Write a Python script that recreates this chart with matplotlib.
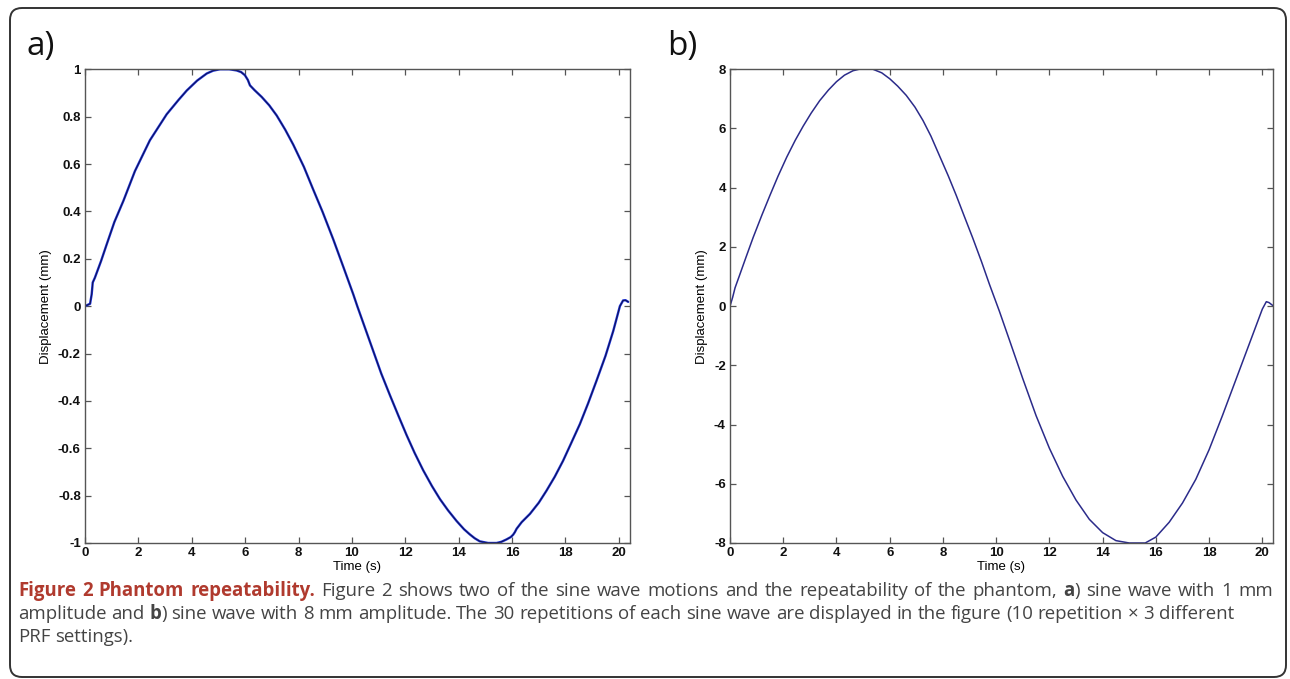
import matplotlib
matplotlib.use("Agg")
import matplotlib.pyplot as plt
from matplotlib.patches import FancyBboxPatch
from matplotlib.transforms import IdentityTransform

# panel a: 1 mm sine wave (30 repetitions overlaid)
time_a = [0, 0.19, 0.25, 0.29, 0.37, 0.6, 0.81, 1.1, 1.44, 1.87, 2.43, 3.06, 3.5, 3.81,
          4.2, 4.56, 4.8, 5.06, 5.4, 5.68, 5.85, 5.99, 6.1, 6.18, 6.35, 6.62, 6.9, 7.18,
          7.5, 7.8, 8.2, 8.55, 8.9, 9.3, 9.68, 10.05, 10.2, 10.5, 10.8, 11.1, 11.42, 11.75,
          12.05, 12.35, 12.67, 13.0, 13.3, 13.6, 13.92, 14.2, 14.42, 14.6, 14.79, 15.1,
          15.42, 15.6, 15.79, 15.95, 16.04, 16.1, 16.17, 16.36, 16.67, 17.0, 17.29, 17.6,
          17.91, 18.2, 18.54, 18.85, 19.16, 19.5, 19.79, 20.04, 20.16, 20.25, 20.35]
disp_a = [0, 0.01, 0.05, 0.10, 0.12, 0.19, 0.26, 0.355, 0.445, 0.57, 0.70, 0.81, 0.87, 0.91,
          0.952, 0.982, 0.994, 1.0, 1.0, 0.995, 0.988, 0.975, 0.955, 0.932, 0.912, 0.883, 0.848, 0.805,
          0.745, 0.682, 0.588, 0.492, 0.398, 0.282, 0.165, 0.05, 0.0, -0.095, -0.19, -0.285, -0.375, -0.465,
          -0.545, -0.62, -0.693, -0.76, -0.815, -0.862, -0.907, -0.942, -0.964, -0.98, -0.993, -1.0,
          -1.0, -0.995, -0.985, -0.975, -0.965, -0.955, -0.94, -0.912, -0.877, -0.83, -0.779, -0.72,
          -0.653, -0.582, -0.498, -0.41, -0.316, -0.21, -0.105, 0.0, 0.024, 0.025, 0.018]

# panel b: 8 mm sine wave
time_b = [0, 0.1, 0.19, 0.37, 0.6, 0.87, 1.2, 1.5, 1.8, 2.13, 2.45, 2.75, 3.05, 3.37, 3.7,
          4.0, 4.3, 4.62, 4.85, 5.0, 5.37, 5.7, 6.0, 6.3, 6.62, 6.95, 7.25, 7.55, 7.87, 8.2,
          8.5, 8.8, 9.12, 9.45, 9.75, 10.12, 10.5, 11.0, 11.5, 12.0, 12.5, 13.0, 13.5, 14.0,
          14.5, 15.0, 15.6, 16.0, 16.5, 17.0, 17.5, 18.0, 18.5, 19.0, 19.5, 20.0, 20.15,
          20.25, 20.38]
disp_b = [0, 0.3, 0.62, 1.07, 1.65, 2.32, 3.08, 3.74, 4.38, 5.03, 5.6, 6.08, 6.52, 6.94, 7.3,
          7.58, 7.8, 7.95, 8.0, 8.0, 8.0, 7.88, 7.68, 7.43, 7.12, 6.72, 6.27, 5.74, 5.08, 4.4,
          3.74, 3.04, 2.3, 1.5, 0.73, -0.17, -1.15, -2.45, -3.7, -4.8, -5.75, -6.55, -7.2, -7.65,
          -7.92, -8.0, -8.0, -7.8, -7.3, -6.65, -5.85, -4.85, -3.7, -2.5, -1.3, -0.1, 0.15,
          0.12, 0.03]

xticks = [0, 2, 4, 6, 8, 10, 12, 14, 16, 18, 20]
yticks_a = [-1, -0.8, -0.6, -0.4, -0.2, 0, 0.2, 0.4, 0.6, 0.8, 1]
yticks_b = [-8, -6, -4, -2, 0, 2, 4, 6, 8]


def fmt(v):
    return ("%g" % v)


def style_axes(ax, yticks, ylim):
    ax.set_xlim(0, 20.4)
    ax.set_ylim(*ylim)
    ax.set_xticks(xticks)
    ax.set_xticklabels([fmt(v) for v in xticks])
    ax.set_yticks(yticks)
    ax.set_yticklabels([fmt(v) for v in yticks])
    for lab in ax.get_xticklabels() + ax.get_yticklabels():
        lab.set_fontfamily("Liberation Sans")
        lab.set_fontweight("bold")
        lab.set_fontsize(9.5)
        lab.set_color("#111111")
    ax.tick_params(direction="in", length=4, width=0.9, color="#555555",
                   top=True, right=True, pad=3)
    for s in ax.spines.values():
        s.set_color("#555555")
        s.set_linewidth(1.0)
    ax.set_xlabel("Time (s)", fontfamily="Liberation Sans", fontsize=9.5, labelpad=1)
    ax.set_ylabel("Displacement (mm)", fontfamily="Liberation Sans", fontsize=9.5, labelpad=4)


fig = plt.figure(figsize=(12.9, 6.79), dpi=100)

ax_a = fig.add_axes([0.0659, 0.2003, 0.4221, 0.6977])
ax_a.plot(time_a, disp_a, color="#1a2fd6", linewidth=1.7, solid_capstyle="round")
ax_a.plot(time_a, disp_a, color="#101040", linewidth=0.6)
style_axes(ax_a, yticks_a, (-1, 1))

ax_b = fig.add_axes([0.5659, 0.2003, 0.4209, 0.6977])
ax_b.plot(time_b, disp_b, color="#2b2b8a", linewidth=1.1)
style_axes(ax_b, yticks_b, (-8, 8))

fig.text(27 / 1290, 1 - 46 / 679, "a)", fontfamily="Open Sans", fontsize=24,
         va="center", ha="left", color="#111111")
fig.text(667 / 1290, 1 - 46 / 679, "b)", fontfamily="Open Sans", fontsize=24,
         va="center", ha="left", color="#111111")

# outer rounded frame
frame = FancyBboxPatch((10, 2), 1276, 669, boxstyle="round,pad=0,rounding_size=12",
                       transform=IdentityTransform(), fill=False,
                       edgecolor="#333333", linewidth=1.4)
fig.patches.append(frame)

# caption: each line is a list of words, each word a list of styled pieces
RED = "#b03a2e"
GREY = "#444444"
head = [[("Figure", "bold", RED)], [("2", "bold", RED)], [("Phantom", "bold", RED)],
        [("repeatability.", "bold", RED)]]


def plain(s):
    return [[(w, "normal", GREY)] for w in s.split()]


line1 = head + plain("Figure 2 shows two of the sine wave motions and the repeatability of the phantom,") \
    + [[("a", "bold", GREY), (")", "normal", GREY)]] + plain("sine wave with 1 mm")
line2 = plain("amplitude and") + [[("b", "bold", GREY), (")", "normal", GREY)]] \
    + plain("sine wave with 8 mm amplitude. The 30 repetitions of each sine wave are displayed in the figure (10 repetition \u00d7 3 different")
line3 = plain("PRF settings).")
cap_lines = [line1, line2, line3]
cap_y = [591, 614, 637]
cap_end = [1273, 1234, None]

renderer = fig.canvas.get_renderer()
cap_size = 13.4


def piece_width(txt, weight):
    t = fig.text(0, 0, txt, fontfamily="Open Sans", fontweight=weight, fontsize=cap_size)
    w = t.get_window_extent(renderer=renderer).width
    t.remove()
    return w


space_w = piece_width("a b", "normal") - piece_width("ab", "normal")

for words, ypix, xend in zip(cap_lines, cap_y, cap_end):
    widths = [sum(piece_width(p[0], p[1]) for p in w) for w in words]
    if xend is None:
        gap = space_w
    else:
        gap = (xend - 18 - sum(widths)) / (len(words) - 1)
    x = 18
    for w, wd in zip(words, widths):
        xx = x
        for txt, weight, col in w:
            fig.text(xx / 1290, 1 - ypix / 679, txt, fontfamily="Open Sans",
                     fontweight=weight, fontsize=cap_size, color=col, va="center", ha="left")
            xx += piece_width(txt, weight)
        x += wd + gap

fig.savefig("out.png", dpi=100)
